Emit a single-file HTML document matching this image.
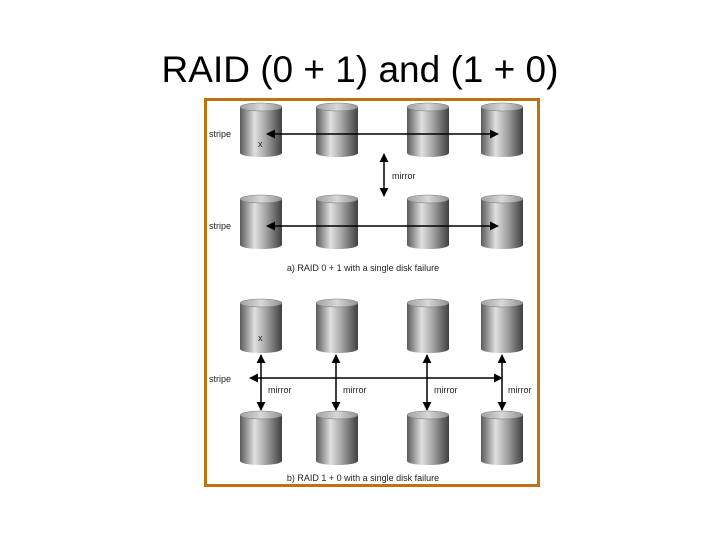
<!DOCTYPE html>
<html><head><style>
body{margin:0;width:720px;height:540px;background:#fff;overflow:hidden;font-family:"Liberation Sans",sans-serif;}
</style></head><body>
<svg width="720" height="540" viewBox="0 0 720 540" xmlns="http://www.w3.org/2000/svg">
<defs>
<linearGradient id="g" x1="0" x2="1" y1="0" y2="0">
<stop offset="0" stop-color="#5a5a5a"/><stop offset="0.35" stop-color="#e0e0e0"/><stop offset="0.6" stop-color="#a8a8a8"/><stop offset="1" stop-color="#404040"/>
</linearGradient>
<linearGradient id="t" x1="0" x2="1"><stop offset="0" stop-color="#a0a0a0"/><stop offset="0.5" stop-color="#d8d8d8"/><stop offset="1" stop-color="#909090"/></linearGradient>
<marker id="a" viewBox="0 0 10 10" refX="9" refY="5" markerWidth="6" markerHeight="6" orient="auto-start-reverse"><path d="M0,0L10,5L0,10z" fill="#000"/></marker>
<g id="c"><path d="M-21,4 L-21,50 A21,4 0 0 0 21,50 L21,4z" fill="url(#g)"/><ellipse cx="0" cy="4" rx="21" ry="4" fill="url(#t)" stroke="#777" stroke-width="0.5"/></g>
</defs>
<text x="360" y="82" font-size="37" text-anchor="middle" font-family="Liberation Sans, sans-serif">RAID (0 + 1) and (1 + 0)</text>
<rect x="205.5" y="99.5" width="333" height="386" fill="#fff" stroke="#c0720f" stroke-width="3"/>
<g>
<use href="#c" x="261" y="103"/><use href="#c" x="337" y="103"/><use href="#c" x="428" y="103"/><use href="#c" x="502" y="103"/>
<use href="#c" x="261" y="195"/><use href="#c" x="337" y="195"/><use href="#c" x="428" y="195"/><use href="#c" x="502" y="195"/>
<use href="#c" x="261" y="299"/><use href="#c" x="337" y="299"/><use href="#c" x="428" y="299"/><use href="#c" x="502" y="299"/>
<use href="#c" x="261" y="411"/><use href="#c" x="337" y="411"/><use href="#c" x="428" y="411"/><use href="#c" x="502" y="411"/>
</g>
<g stroke="#000" stroke-width="1.5" marker-start="url(#a)" marker-end="url(#a)">
<line x1="267" y1="134" x2="498" y2="134"/>
<line x1="267" y1="226" x2="498" y2="226"/>
<line x1="384" y1="154" x2="384" y2="196"/>
<line x1="250" y1="378" x2="502" y2="378"/>
<line x1="261" y1="355" x2="261" y2="410"/>
<line x1="336" y1="355" x2="336" y2="410"/>
<line x1="427" y1="355" x2="427" y2="410"/>
<line x1="502" y1="355" x2="502" y2="410"/>
</g>
<g font-size="9" fill="#222">
<text x="209" y="137">stripe</text>
<text x="209" y="229">stripe</text>
<text x="392" y="179">mirror</text>
<text x="258" y="147">x</text>
<text x="258" y="341">x</text>
<text x="209" y="382">stripe</text>
<text x="268" y="393">mirror</text>
<text x="343" y="393">mirror</text>
<text x="434" y="393">mirror</text>
<text x="508" y="393">mirror</text>
<text x="363" y="271" text-anchor="middle">a) RAID 0 + 1 with a single disk failure</text>
<text x="363" y="481" text-anchor="middle">b) RAID 1 + 0 with a single disk failure</text>
</g>
</svg>
</body></html>
